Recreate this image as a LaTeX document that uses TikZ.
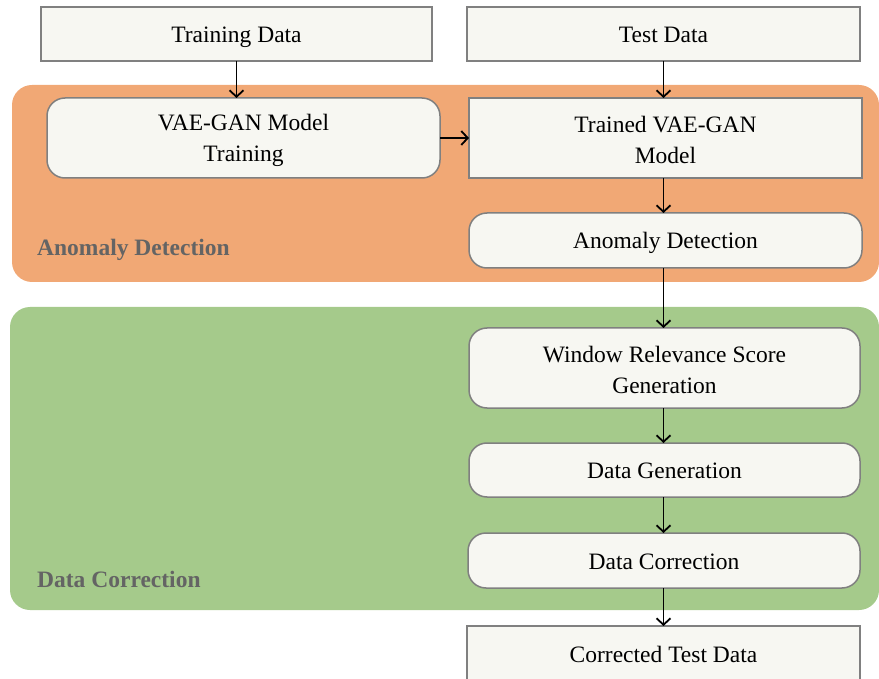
\documentclass[tikz,border=0pt]{standalone}
\usepackage{fontspec}
\setmainfont{Liberation Serif}
\usetikzlibrary{arrows.meta,positioning}
\definecolor{panelorange}{RGB}{241,168,117}
\definecolor{panelgreen}{RGB}{165,202,139}
\definecolor{boxfill}{RGB}{247,247,242}
\definecolor{boxline}{RGB}{128,128,128}
\definecolor{labelgray}{RGB}{100,100,100}
\tikzset{
  x=1pt, y=-1pt,
  every node/.style={font=\fontsize{23.5}{31}\selectfont, inner sep=0pt, align=center},
  oneline/.style={anchor=base},
  squarebox/.style={draw=boxline, fill=boxfill, line width=1.5pt},
  roundbox/.style={squarebox, rounded corners=18pt},
  panel/.style={rounded corners=20pt},
  flow/.style={-{Straight Barb[length=6.5pt,width=14pt,line width=1.8pt]}, line width=1.8pt, black},
  panellabel/.style={font=\fontsize{23.5}{28}\selectfont\bfseries, text=labelgray, anchor=base west},
}
\begin{document}
\begin{tikzpicture}
\useasboundingbox (0,0) rectangle (879,679);
\clip (0,0) rectangle (879,679);

% background panels
\fill[panelorange, panel] (12,85) rectangle (879,282);
\fill[panelgreen, panel] (10,307) rectangle (879,610);
\node[panellabel] (lbldet) at (37,256) {Anomaly Detection};
\node[panellabel] (lblcor) at (37,587) {Data Correction};

% boxes (single-line captions sit on a baseline 8.5pt below the box centre)
\draw[squarebox] (41,7) rectangle (432,61);
\node[oneline] (train) at (236.5,42.5) {Training Data};
\coordinate (trainbot) at (236.5,61);

\draw[squarebox] (467,7) rectangle (860,61);
\node[oneline] (test) at (663.5,42.5) {Test Data};
\coordinate (testbot) at (663.5,61);

\draw[roundbox] (47,98) rectangle (440,178);
\node (vae) at (243.5,140) {VAE-GAN Model\\Training};
\coordinate (vaetop) at (236.5,98);
\coordinate (vaeright) at (440,138);

\draw[squarebox] (469,98) rectangle (862,178);
\node (trained) at (665.5,140) {Trained VAE-GAN\\Model};
\coordinate (trainedtop) at (663.5,98);
\coordinate (trainedleft) at (469,138);
\coordinate (trainedbot) at (663.5,178);

\draw[roundbox] (469,213) rectangle (862,268);
\node[oneline] (anom) at (665.5,249) {Anomaly Detection};
\coordinate (anomtop) at (663.5,213);
\coordinate (anombot) at (663.5,268);

\draw[roundbox] (469,328) rectangle (860,408);
\node (wrs) at (664.5,370) {Window Relevance Score\\Generation};
\coordinate (wrstop) at (663.5,328);
\coordinate (wrsbot) at (663.5,408);

\draw[roundbox] (469,443) rectangle (860,497);
\node[oneline] (gen) at (664.5,478.5) {Data Generation};
\coordinate (gentop) at (663.5,443);
\coordinate (genbot) at (663.5,497);

\draw[roundbox] (468,533) rectangle (860,588);
\node[oneline] (corr) at (664,569) {Data Correction};
\coordinate (corrtop) at (663.5,533);
\coordinate (corrbot) at (663.5,588);

\draw[squarebox] (467,626) rectangle (860,700);
\node[oneline] (out) at (663.5,662) {Corrected Test Data};
\coordinate (outtop) at (663.5,626);

% connectors
\draw[flow] (trainbot) -- (vaetop);
\draw[flow] (testbot) -- (trainedtop);
\draw[flow] (vaeright) -- (trainedleft);
\draw[flow] (trainedbot) -- (anomtop);
\draw[flow] (anombot) -- (wrstop);
\draw[flow] (wrsbot) -- (gentop);
\draw[flow] (genbot) -- (corrtop);
\draw[flow] (corrbot) -- (outtop);
\end{tikzpicture}
\end{document}
